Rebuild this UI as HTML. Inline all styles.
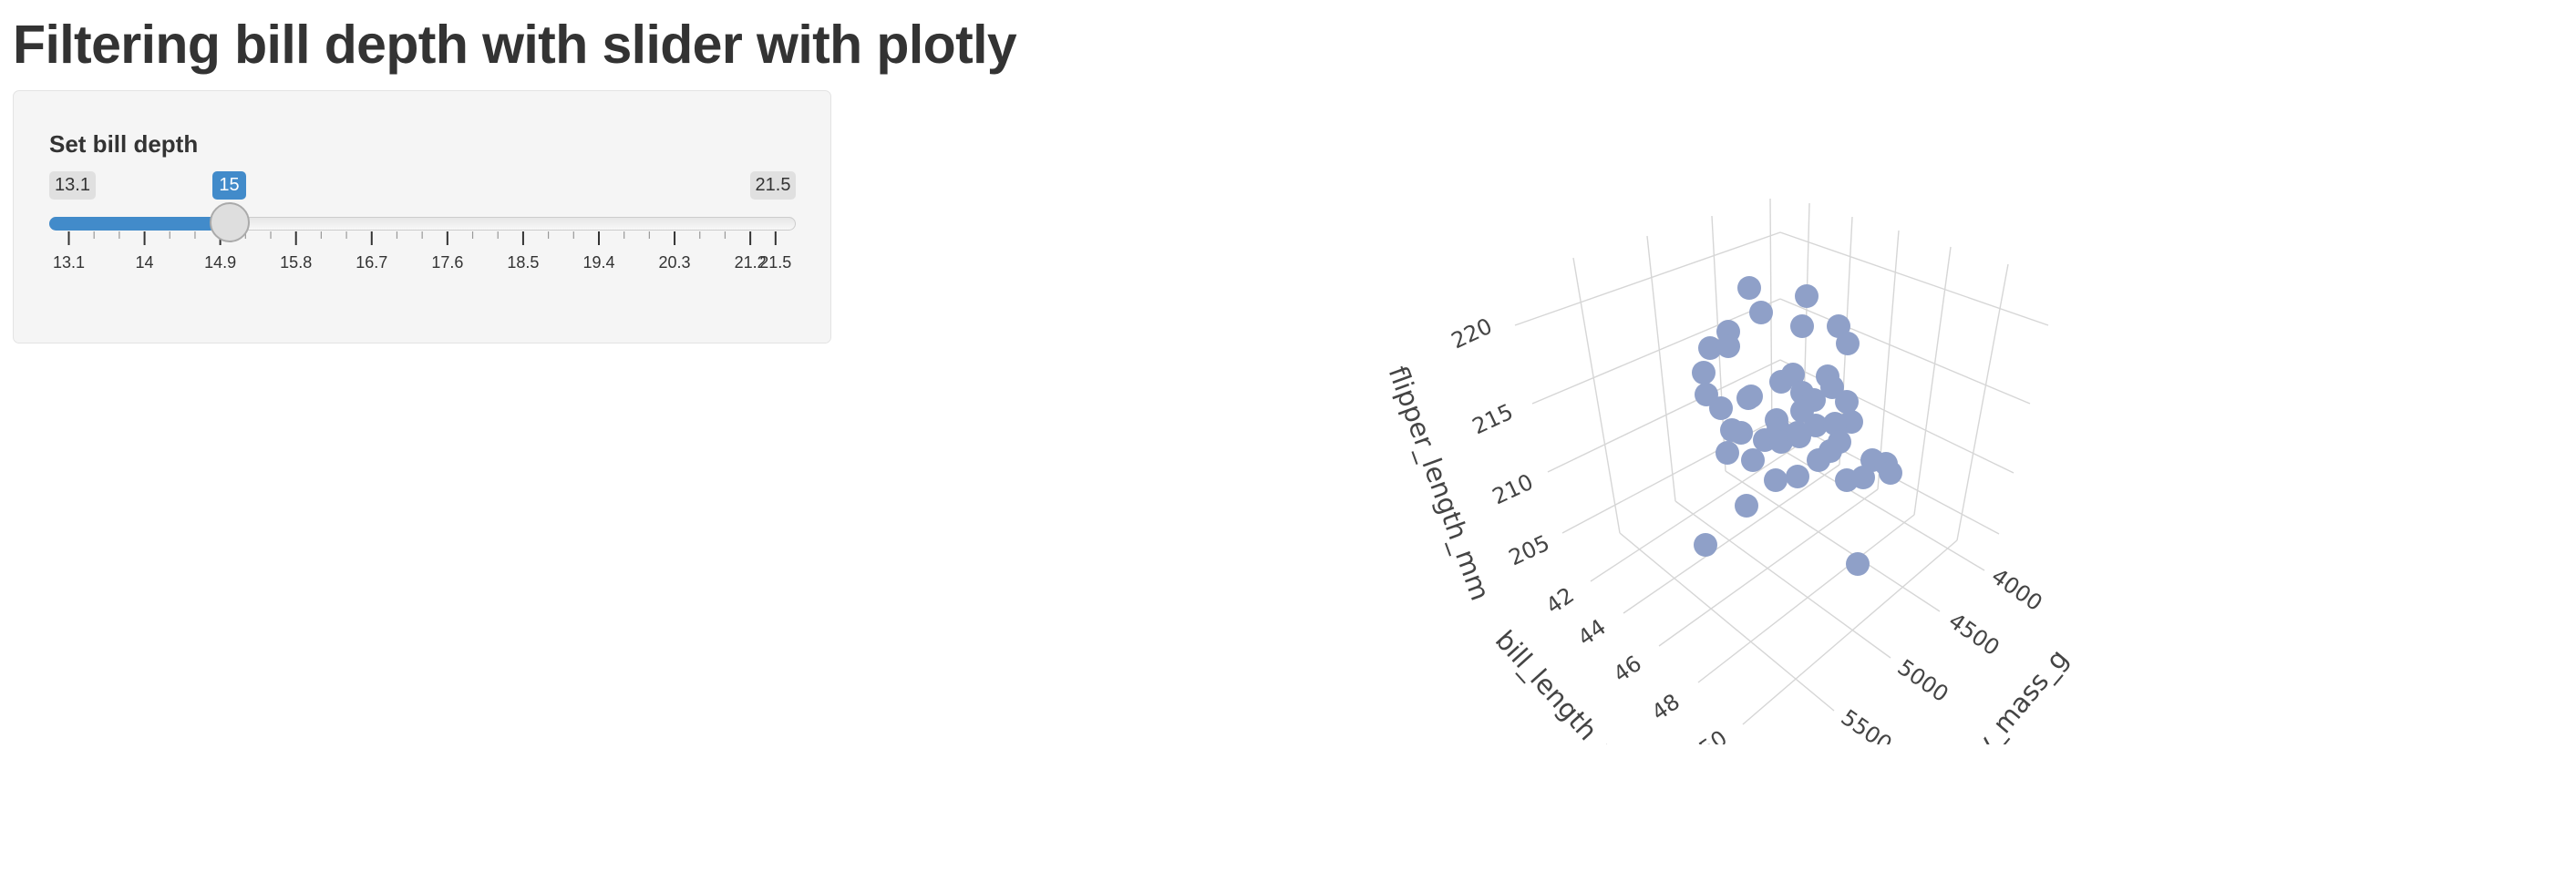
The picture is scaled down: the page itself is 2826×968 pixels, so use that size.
<!DOCTYPE html>
<html><head><meta charset="utf-8"><style>
body{margin:0;width:2826px;height:968px;background:#fff;position:relative;overflow:hidden;font-family:"Liberation Sans",Arial,sans-serif;color:#333}
.a{position:absolute}
h1{position:absolute;left:14px;top:9px;margin:0;font-size:59px;font-weight:bold;letter-spacing:-0.6px;color:#333;white-space:nowrap;line-height:80px}
.panel{left:14px;top:99px;width:896px;height:276px;background:#f5f5f5;border:1px solid #e3e3e3;border-radius:7px}
.lbl{left:54px;top:143px;font-size:26px;font-weight:bold}
.box{top:188px;height:31px;line-height:31px;font-size:20px;text-align:center;border-radius:5px}
</style></head><body>
<h1>Filtering bill depth with slider with plotly</h1>
<div class="a panel"></div>
<div class="a lbl">Set bill depth</div>
<div class="a box" style="left:54px;width:51px;background:#e0e0e0;color:#333">13.1</div>
<div class="a box" style="left:233px;width:37px;background:#428bca;color:#fff">15</div>
<div class="a box" style="left:823px;width:50px;background:#e0e0e0;color:#333">21.5</div>
<div class="a" style="left:54px;top:238px;width:817px;height:13px;border:1px solid #ccc;border-radius:8px;background:linear-gradient(#e6e6e6,#f8f8f8)"></div>
<div class="a" style="left:54px;top:238px;width:200px;height:15px;border-radius:8px 0 0 8px;background:#428bca"></div>
<svg class="a" style="left:0;top:0" width="920" height="320">
<g id="ticks" stroke="#333" stroke-width="2"></g>
<g id="tl" font-size="18" fill="#333" text-anchor="middle" font-family="Liberation Sans,sans-serif"></g>
<circle cx="252" cy="244" r="21" fill="#dedede" stroke="#aaa" stroke-width="2"/>
</svg>
<svg class="a" style="left:0;top:0" width="2826" height="817" font-family="DejaVu Sans,Liberation Sans,sans-serif">
<g id="grid" stroke="#d6d6d6" stroke-width="1.4" fill="none"></g>
<g id="pts" fill="#8FA0C8"></g>
<g fill="#444" font-size="24">
<text transform="translate(1615,367) rotate(-25)" text-anchor="middle" dominant-baseline="middle">220</text>
<text transform="translate(1638,461) rotate(-25)" text-anchor="middle" dominant-baseline="middle">215</text>
<text transform="translate(1660,538) rotate(-25)" text-anchor="middle" dominant-baseline="middle">210</text>
<text transform="translate(1678,605) rotate(-25)" text-anchor="middle" dominant-baseline="middle">205</text>
<text transform="translate(1712,660) rotate(-35)" text-anchor="middle" dominant-baseline="middle">42</text>
<text transform="translate(1747,695) rotate(-35)" text-anchor="middle" dominant-baseline="middle">44</text>
<text transform="translate(1786,735) rotate(-35)" text-anchor="middle" dominant-baseline="middle">46</text>
<text transform="translate(1828,777) rotate(-35)" text-anchor="middle" dominant-baseline="middle">48</text>
<text transform="translate(1880,817) rotate(-35)" text-anchor="middle" dominant-baseline="middle">50</text>
<text transform="translate(2212,648) rotate(35)" text-anchor="middle" dominant-baseline="middle">4000</text>
<text transform="translate(2165,697) rotate(35)" text-anchor="middle" dominant-baseline="middle">4500</text>
<text transform="translate(2109,748) rotate(35)" text-anchor="middle" dominant-baseline="middle">5000</text>
<text transform="translate(2047,803) rotate(35)" text-anchor="middle" dominant-baseline="middle">5500</text>
</g>
<g fill="#444" font-size="29">
<text transform="translate(1577,531) rotate(70)" text-anchor="middle" dominant-baseline="middle">flipper_length_mm</text>
<text transform="translate(1645,698) rotate(48)" dominant-baseline="middle">bill_length_mm</text>
<text transform="translate(2264,718) rotate(-50)" text-anchor="end" dominant-baseline="middle">body_mass_g</text>
</g>
</svg>
<script>
var NS="http://www.w3.org/2000/svg";
function el(p,t,a){var e=document.createElementNS(NS,t);for(var k in a)e.setAttribute(k,a[k]);p.appendChild(e);return e;}
var tk=document.getElementById('ticks'),tl=document.getElementById('tl');
function X(v){return 75.5+(v-13.1)*92.3;}
var majors=[13.1,14,14.9,15.8,16.7,17.6,18.5,19.4,20.3,21.2,21.5];
majors.forEach(function(v){var x=X(v);el(tk,'line',{x1:x,x2:x,y1:254,y2:269});var t=el(tl,'text',{x:x,y:294});t.textContent=(v==14?'14':v.toString());});
for(var i=0;i<majors.length-1;i++){var a=majors[i],b=majors[i+1];var n=Math.round((b-a)/0.3);for(var j=1;j<n;j++){var x=X(a+j*0.3);el(tk,'line',{x1:x,x2:x,y1:254,y2:262,'stroke-width':1.2,stroke:'#999'});}}
var g=document.getElementById('grid');
function L(a,b,c,d){el(g,'line',{x1:a,y1:b,x2:c,y2:d});}
[[1726,283,1777,585],[1807,259,1838,550],[1878,237,1893,517],[1942,218,1944,487]].forEach(function(l){L.apply(null,l)});
[[1985,223,1978,485],[2032,238,2018,510],[2083,253,2060,537],[2140,271,2100,565],[2203,290,2147,593]].forEach(function(l){L.apply(null,l)});
[[1953,255,1662,357],[1953,255,2247,357],[1953,328,1681,443],[1953,328,2227,443],[1953,395,1698,518],[1953,395,2209,519],[1953,458,1714,585],[1953,458,2193,586]].forEach(function(l){L.apply(null,l)});
[[1745,638,1978,485],[1781,673,2018,510],[1820,709,2060,537],[1863,749,2100,565],[1912,795,2147,593]].forEach(function(l){L.apply(null,l)});
[[2177,626,1944,487],[2128,671,1893,517],[2074,722,1838,550],[2012,780,1777,585]].forEach(function(l){L.apply(null,l)});
var P=[[1919,316],[1982,325],[1932,343],[1977,358],[1896,364],[2017,358],[2027,377],[1876,382],[1896,380],[1869,409],[1872,433],[1888,448],[1921,435],[1918,437],[1954,419],[1967,411],[2005,413],[2010,425],[1977,431],[1990,439],[2026,441],[1977,451],[1949,461],[2031,463],[1900,472],[1910,475],[1951,471],[1972,475],[1992,467],[2013,465],[1936,483],[1954,485],[1974,479],[2018,485],[2008,495],[1895,497],[1923,505],[1995,505],[2054,505],[2069,509],[2074,519],[1972,523],[1948,527],[2026,527],[2044,524],[1916,555],[1871,598],[2038,619]];
var pg=document.getElementById('pts');
P.forEach(function(p){el(pg,'circle',{cx:p[0],cy:p[1],r:13});});
</script>
</body></html>
